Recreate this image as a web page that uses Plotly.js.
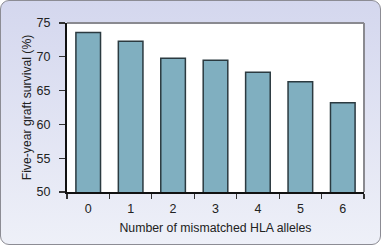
<!DOCTYPE html>
<html><head><meta charset="utf-8">
<script src="https://cdn.plot.ly/plotly-3.0.1.min.js"></script>
<style>
html,body{margin:0;padding:0;background:#fff;}
#wrap{position:absolute;left:0;top:0;width:381px;height:245px;box-sizing:border-box;border:1.5px solid #8c8c94;border-radius:9px;background:linear-gradient(#d4d7ee,#eef0f8);}
#chart{position:absolute;left:0;top:0;width:381px;height:245px;}
</style></head>
<body>
<div id="wrap"></div>
<div id="chart"></div>
<script>
const categories = ["0","1","2","3","4","5","6"];
const survival = [73.6, 72.3, 69.8, 69.5, 67.7, 66.3, 63.2];
const yTicks = [50, 55, 60, 65, 70, 75];

const trace = {
  type: "bar",
  x: categories,
  y: survival,
  marker: {color: "#80afc0", line: {color: "#2b3a40", width: 1.5}},
  hoverinfo: "none"
};
const layout = {
  width: 381, height: 245,
  margin: {l: 67, r: 17, t: 23, b: 53},
  paper_bgcolor: "rgba(0,0,0,0)",
  plot_bgcolor: "#ffffff",
  bargap: 0.42,
  showlegend: false,
  font: {family: "Liberation Sans, Arial, sans-serif", size: 12, color: "#222"},
  xaxis: {
    type: "category",
    tickson: "boundaries",
    ticks: "outside", ticklen: 5, tickwidth: 1.2, tickcolor: "#333",
    showline: true, linecolor: "#111", linewidth: 2,
    showgrid: false, zeroline: false,
    ticklabelstandoff: 4,
    tickfont: {size: 12.5},
    title: {text: "Number of mismatched HLA alleles", font: {size: 12.3}, standoff: 8}
  },
  yaxis: {
    range: [50, 75],
    tickvals: yTicks,
    ticks: "outside", ticklen: 6, tickwidth: 1.2, tickcolor: "#333",
    showline: true, linecolor: "#111", linewidth: 2,
    showgrid: false, zeroline: false,
    ticklabelstandoff: 6,
    tickfont: {size: 12.5},
    title: {text: "Five-year graft survival (%)", font: {size: 12.2}, standoff: 2}
  },
  shapes: [
    {type: "line", xref: "paper", yref: "paper", x0: 0, x1: 1, y0: 1, y1: 1, line: {color: "#8a8a90", width: 2}},
    {type: "line", xref: "paper", yref: "paper", x0: 1, x1: 1, y0: 0, y1: 1, line: {color: "#8a8a90", width: 2}}
  ]
};
Plotly.newPlot("chart", [trace], layout, {displayModeBar: false, staticPlot: true});
</script>
</body></html>
